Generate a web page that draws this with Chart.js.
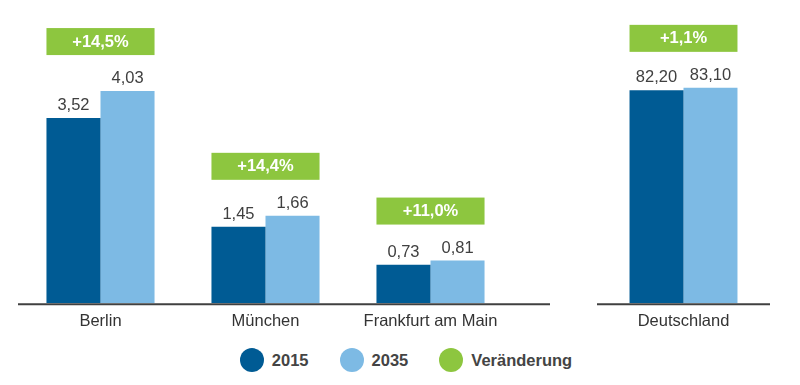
<!DOCTYPE html>
<html>
<head>
<meta charset="utf-8">
<script src="https://cdn.jsdelivr.net/npm/chart.js@4"></script>
<style>
  html, body { margin:0; padding:0; background:#fff; }
  body { width:800px; height:385px; position:relative; overflow:hidden; font-family:"Liberation Sans", Arial, sans-serif; }
  #left { position:absolute; left:0; top:0; }
  #right { position:absolute; left:580px; top:0; }
  #legend { position:absolute; left:6px; top:348px; width:800px; display:flex; justify-content:center; align-items:center; }
  .item { display:flex; align-items:center; font-weight:bold; font-size:16.5px; color:#444; }
  .dot { width:24px; height:24px; border-radius:50%; margin-right:8px; }
</style>
</head>
<body>
<canvas id="left" width="560" height="344"></canvas>
<canvas id="right" width="220" height="344"></canvas>
<div id="legend"></div>
<script>
// cities (Mio. Einwohner)
const cityLabels = ['Berlin', 'München', 'Frankfurt am Main'];
const city2015 = [3.52, 1.45, 0.73];
const city2035 = [4.03, 1.66, 0.81];
const cityChange = ['+14,5%', '+14,4%', '+11,0%'];

// germany
const deLabels = ['Deutschland'];
const de2015 = [82.20];
const de2035 = [83.10];
const deChange = ['+1,1%'];

const seriesNames = ['2015', '2035', 'Veränderung'];
const colors = ['#005b94', '#7dbae4', '#8dc63f'];
const FONT = '"Liberation Sans", Arial, sans-serif';

function fmt(v){ return v.toFixed(2).replace('.', ','); }

// value labels, green change boxes and the base line
const decor = {
  id: 'decor',
  afterDatasetsDraw(chart, args, opts){
    const ctx = chart.ctx;
    const a = chart.getDatasetMeta(0).data;
    const b = chart.getDatasetMeta(1).data;
    const area = chart.chartArea;
    ctx.save();
    // base line
    ctx.strokeStyle = '#404040';
    ctx.lineWidth = 2;
    ctx.beginPath();
    ctx.moveTo(area.left, area.bottom + 1);
    ctx.lineTo(area.right + (opts.extend || 0), area.bottom + 1);
    ctx.stroke();
    // value labels
    ctx.font = '16.5px ' + FONT;
    ctx.fillStyle = '#404040';
    ctx.textAlign = 'center';
    ctx.textBaseline = 'bottom';
    [a, b].forEach((bars, di) => {
      bars.forEach((bar, i) => {
        ctx.fillText(fmt(chart.data.datasets[di].data[i]), bar.x, bar.y - 4);
      });
    });
    // change boxes
    a.forEach((bar, i) => {
      const other = b[i];
      const x1 = bar.x - bar.width / 2;
      const x2 = other.x + other.width / 2;
      const top = Math.min(bar.y, other.y);
      const y2 = top - 36, y1 = y2 - 27;
      ctx.fillStyle = colors[2];
      ctx.fillRect(x1, y1, x2 - x1, 27);
      ctx.fillStyle = '#fff';
      ctx.font = 'bold 16.5px ' + FONT;
      ctx.textBaseline = 'middle';
      ctx.fillText(opts.changes[i], (x1 + x2) / 2, y1 + 14);
    });
    ctx.restore();
  }
};

function makeChart(id, labels, d1, d2, changes, yMax, pad, extend, catPct){
  return new Chart(document.getElementById(id), {
    type: 'bar',
    data: {
      labels,
      datasets: [
        { label: seriesNames[0], data: d1, backgroundColor: colors[0] },
        { label: seriesNames[1], data: d2, backgroundColor: colors[1] }
      ]
    },
    options: {
      responsive: false,
      animation: false,
      devicePixelRatio: 1,
      layout: { padding: pad },
      datasets: { bar: { barPercentage: 1, categoryPercentage: catPct } },
      plugins: {
        legend: { display: false },
        tooltip: { enabled: false },
        decor: { changes, extend }
      },
      scales: {
        x: {
          grid: { display: false, drawTicks: false },
          border: { display: false },
          ticks: { color: '#333', font: { size: 16.5, family: FONT }, padding: 8 }
        },
        y: { display: false, min: 0, max: yMax }
      }
    },
    plugins: [decor]
  });
}

makeChart('left', cityLabels, city2015, city2035, cityChange, 5.76,
  { left: 18, right: 47, top: 0, bottom: 5 }, 37, 0.655);
makeChart('right', deLabels, de2015, de2035, deChange, 117,
  { left: 17, right: 30, top: 0, bottom: 5 }, 0, 0.624);

// legend
const legend = document.getElementById('legend');
seriesNames.forEach((name, i) => {
  const it = document.createElement('div');
  it.className = 'item';
  it.style.marginLeft = i ? '31px' : '0';
  it.innerHTML = `<span class="dot" style="background:${colors[i]}"></span>${name}`;
  legend.appendChild(it);
});
</script>
</body>
</html>
